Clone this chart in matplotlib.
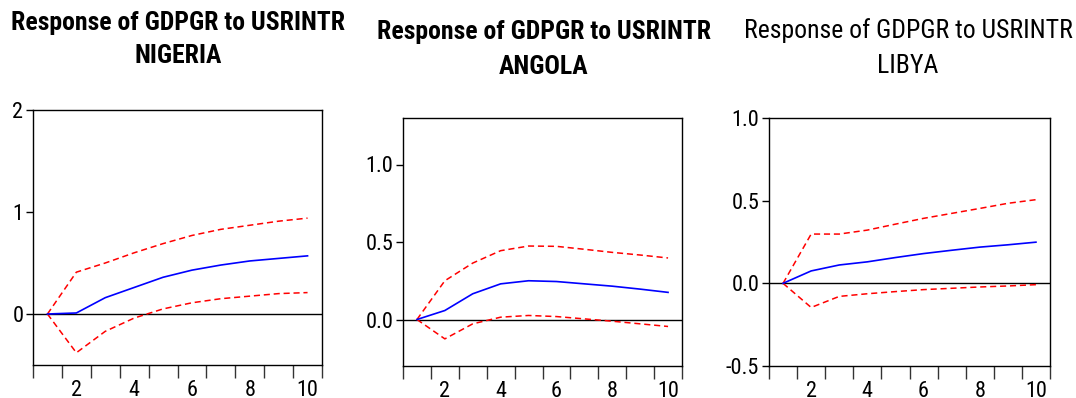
import matplotlib
matplotlib.use("Agg")
import matplotlib.pyplot as plt
from matplotlib.ticker import FixedLocator

PERIODS = [1, 2, 3, 4, 5, 6, 7, 8, 9, 10]

nigeria_resp = [0.0, 0.01, 0.16, 0.26, 0.36, 0.43, 0.48, 0.52, 0.545, 0.57]
nigeria_upper = [0.0, 0.41, 0.50, 0.60, 0.69, 0.77, 0.83, 0.87, 0.91, 0.94]
nigeria_lower = [0.0, -0.38, -0.17, -0.04, 0.05, 0.11, 0.15, 0.175, 0.20, 0.21]

angola_resp = [0.0, 0.058, 0.166, 0.23, 0.25, 0.245, 0.23, 0.215, 0.196, 0.175]
angola_upper = [0.0, 0.25, 0.364, 0.444, 0.474, 0.472, 0.453, 0.433, 0.416, 0.397]
angola_lower = [0.0, -0.125, -0.028, 0.015, 0.026, 0.019, 0.004, -0.011, -0.028, -0.045]

libya_resp = [0.0, 0.075, 0.111, 0.13, 0.156, 0.18, 0.20, 0.219, 0.233, 0.249]
libya_upper = [0.0, 0.298, 0.298, 0.322, 0.358, 0.393, 0.423, 0.453, 0.484, 0.506]
libya_lower = [0.0, -0.146, -0.079, -0.063, -0.05, -0.038, -0.03, -0.022, -0.016, -0.008]

TITLE = "Response of GDPGR to USRINTR"

W, H = 1076, 398

plt.rcParams["font.family"] = ["Roboto Condensed", "PT Sans Narrow", "DejaVu Sans"]

fig = plt.figure(figsize=(W / 100, H / 100), dpi=100)


def px_axes(left, top, right, bottom):
    return fig.add_axes([left / W, 1 - bottom / H, (right - left) / W, (bottom - top) / H])


def panel(ax, resp, upper, lower, ylim, yticks, ylabels):
    ax.plot(PERIODS, upper, color="#FF0000", lw=1.1, ls=(0, (4, 2.5)))
    ax.plot(PERIODS, lower, color="#FF0000", lw=1.1, ls=(0, (4, 2.5)))
    ax.plot(PERIODS, resp, color="#0000FF", lw=1.2)
    ax.axhline(0, color="black", lw=1.0, zorder=1)
    ax.set_xlim(0.5, 10.5)
    ax.set_ylim(*ylim)
    ax.set_yticks(yticks)
    ax.set_yticklabels(ylabels)
    ax.set_xticks([2, 4, 6, 8, 10])
    ax.tick_params(axis="x", length=0, labelsize=16, pad=11)
    ax.tick_params(axis="y", length=5, width=1, labelsize=16, pad=2)
    # period boundaries drawn as ticks between labels
    ax.xaxis.set_minor_locator(FixedLocator([0.5 + i for i in range(11)]))
    ax.tick_params(axis="x", which="minor", length=9, width=1, color="#333333")
    for sp in ax.spines.values():
        sp.set_linewidth(1.0)
        sp.set_color("black")


ax1 = px_axes(33, 110, 322, 365)
panel(ax1, nigeria_resp, nigeria_upper, nigeria_lower, (-0.5, 2.0), [0, 1, 2], ["0", "1", "2"])

ax2 = px_axes(403, 118, 682, 366)
panel(ax2, angola_resp, angola_upper, angola_lower, (-0.3, 1.3), [0.0, 0.5, 1.0], ["0.0", "0.5", "1.0"])

ax3 = px_axes(769, 118, 1050, 366)
panel(ax3, libya_resp, libya_upper, libya_lower, (-0.5, 1.0), [-0.5, 0.0, 0.5, 1.0],
      ["-0.5", "0.0", "0.5", "1.0"])

titles = [
    (178, 30, 63, "NIGERIA", "bold"),
    (544, 39, 74, "ANGOLA", "bold"),
    (908, 38, 73, "LIBYA", "normal"),
]
for cx, y1, y2, country, weight in titles:
    fig.text(cx / W, 1 - y1 / H, TITLE, ha="center", va="baseline", fontsize=18.5, fontweight=weight)
    fig.text(cx / W, 1 - y2 / H, country, ha="center", va="baseline", fontsize=18.5, fontweight=weight)

fig.savefig("out.png", dpi=100)
